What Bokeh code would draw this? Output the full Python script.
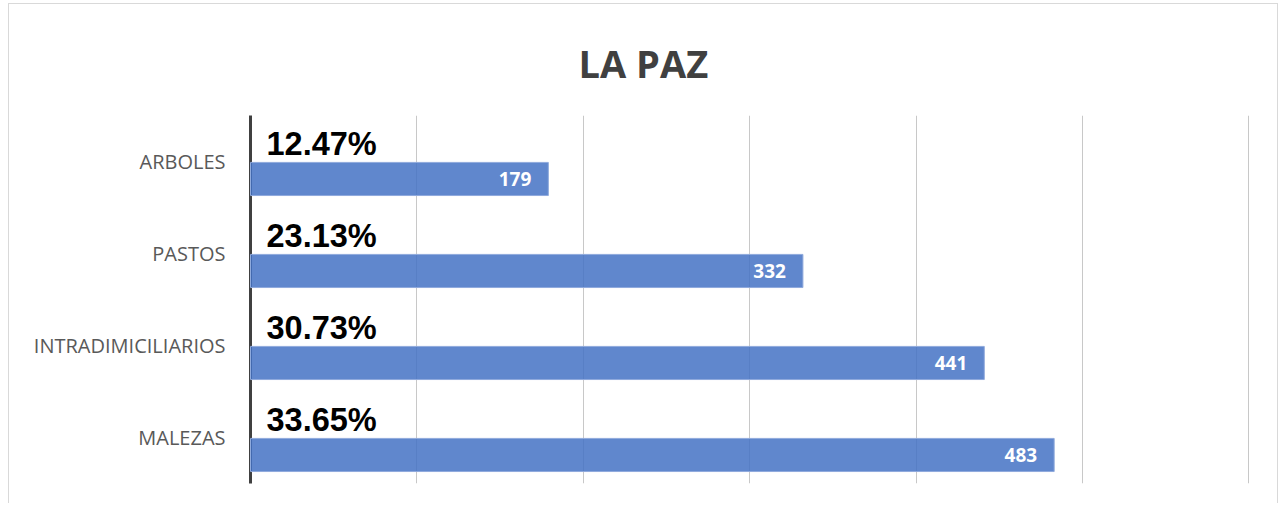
from bokeh.plotting import figure
from bokeh.models import ColumnDataSource, FixedTicker
from bokeh.embed import file_html
from bokeh.resources import INLINE
from bokeh.core.properties import value

categories = ["MALEZAS", "INTRADIMICILIARIOS", "PASTOS", "ARBOLES"]
counts = [483, 441, 332, 179]
percents = ["33.65%", "30.73%", "23.13%", "12.47%"]
x_ticks = [0, 100, 200, 300, 400, 500, 600]

pos = list(range(len(categories)))
src = ColumnDataSource(dict(
    pos=pos,
    bar_y=[p_ - 0.19 for p_ in pos],
    count=counts,
    count_txt=[str(c) for c in counts],
    pct=percents,
    zero=[0] * len(pos),
))

p = figure(width=1268, height=500, output_backend="svg", toolbar_location=None,
           x_range=(0, 601), y_range=(-0.5, 3.5),
           min_border_left=241, min_border_right=27, min_border_top=111, min_border_bottom=21,
           title="LA PAZ")
p.styles = {"margin-left": "9px", "margin-top": "4px",
            "box-shadow": "-1px -1px 0 0 #D9D9D9, 1px -1px 0 0 #D9D9D9"}
p.outline_line_color = None
p.background_fill_color = "white"
p.border_fill_color = "white"

p.title.text_font = "Open Sans"
p.title.text_font_style = "bold"
p.title.text_font_size = "38px"
p.title.text_color = "#404040"
p.title.align = "left"
p.title.offset = 328
p.title.standoff = 54

p.hbar(y="bar_y", right="count", left=0, height=0.36, source=src,
       fill_color="#4472C4", fill_alpha=0.85, line_color="#8FAADC", line_width=1,
       level="overlay")

p.text(x="zero", y="pos", text="pct", source=src, x_offset=16, y_offset=-18,
       text_font=value("Liberation Sans"), text_font_style="bold", text_font_size="32.5px",
       text_color="black", text_align="left", text_baseline="alphabetic", level="overlay")

p.text(x="count", y="bar_y", text="count_txt", source=src, x_offset=-17,
       text_font=value("Open Sans"), text_font_style="bold", text_font_size="19px",
       text_color="white", text_align="right", text_baseline="middle", level="overlay")

p.xaxis.visible = False
p.xgrid.ticker = FixedTicker(ticks=x_ticks)
p.xgrid.grid_line_color = "#C8C8C8"
p.xgrid.grid_line_width = 1
p.ygrid.visible = False

ya = p.yaxis[0]
ya.ticker = FixedTicker(ticks=pos)
ya.major_label_overrides = {i: c for i, c in zip(pos, categories)}
ya.major_tick_line_color = None
ya.minor_tick_line_color = None
ya.axis_line_color = "#404040"
ya.axis_line_width = 3
ya.major_label_text_font = "Open Sans"
ya.major_label_text_font_size = "20px"
ya.major_label_text_color = "#595959"
ya.major_label_standoff = 19

open("out.html", "w").write(file_html(p, INLINE))
